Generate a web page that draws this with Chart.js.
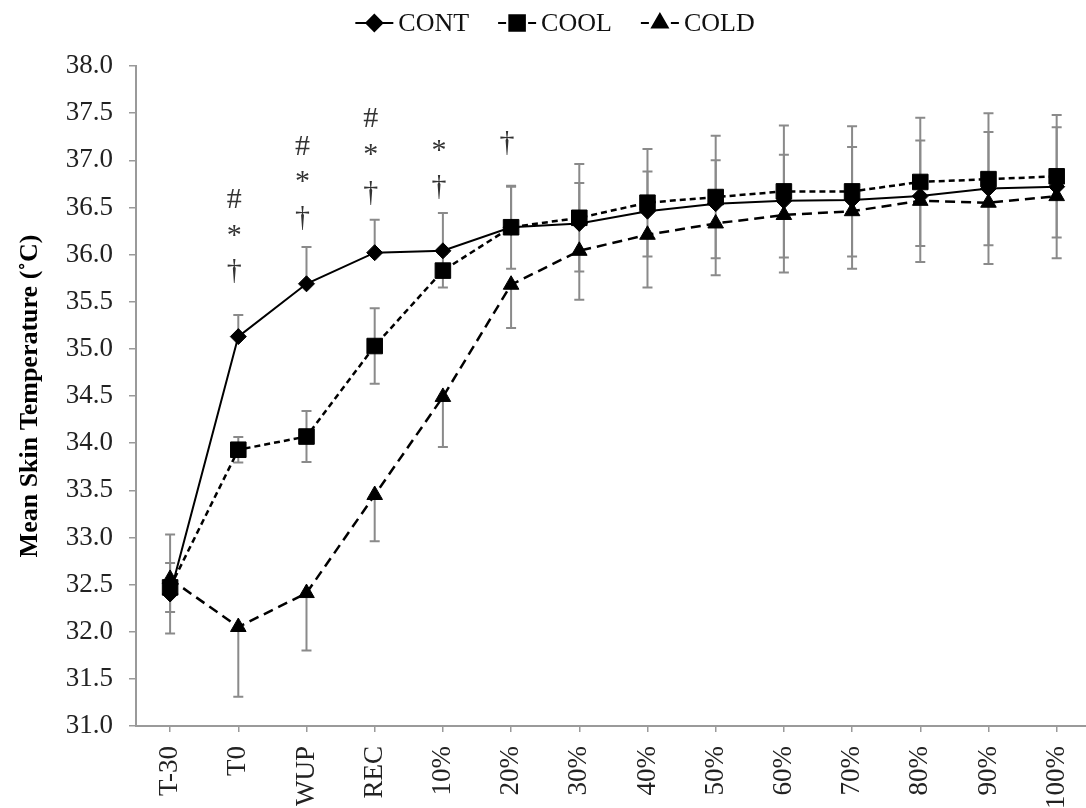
<!DOCTYPE html>
<html><head><meta charset="utf-8">
<script src="https://cdn.jsdelivr.net/npm/chart.js@4.4.0/dist/chart.umd.min.js"></script>
<style>html,body{margin:0;padding:0;background:#fff;overflow:hidden}#wrap{width:1086px;height:808px}</style>
</head><body><div id="wrap"><canvas id="c" width="1086" height="808"></canvas></div>
<script>
const categories = ['T-30','T0','WUP','REC','10%','20%','30%','40%','50%','60%','70%','80%','90%','100%'];
const contMean = [32.40, 35.13, 35.69, 36.02, 36.04, 36.29, 36.33, 36.46, 36.54, 36.57, 36.58, 36.62, 36.70, 36.72];
const coolMean = [32.47, 33.93, 34.07, 35.03, 35.83, 36.29, 36.39, 36.55, 36.61, 36.67, 36.67, 36.77, 36.80, 36.83];
const coldMean = [32.56, 32.05, 32.41, 33.45, 34.49, 35.68, 36.04, 36.21, 36.33, 36.42, 36.46, 36.57, 36.55, 36.62];
const contSD = [0.63, 0.23, 0.39, 0.35, 0.40, 0.43, 0.43, 0.42, 0.46, 0.49, 0.56, 0.59, 0.60, 0.63];
const coolSD = [0.26, 0.135, 0.27, 0.40, 0.18, 0.44, 0.57, 0.57, 0.65, 0.70, 0.69, 0.68, 0.70, 0.65];
const coldSD = [0.58, 0.74, 0.61, 0.49, 0.53, 0.46, 0.52, 0.56, 0.55, 0.61, 0.61, 0.65, 0.65, 0.66];
const sigSymbols = [[], ['#','*','†'], ['#','*','†'], ['#','*','†'], ['*','†'], ['†'], [], [], [], [], [], [], [], []];
const sigLevels  = [[], [36.60, 36.26, 35.83], [37.16, 36.83, 36.39], [37.45, 37.11, 36.65], [37.16, 36.72], [37.18], [], [], [], [], [], [], [], []];
const yTicks = [31.0,31.5,32.0,32.5,33.0,33.5,34.0,34.5,35.0,35.5,36.0,36.5,37.0,37.5,38.0];

const FONT = "'Liberation Serif', 'Times New Roman', serif";
const toPts = arr => arr.map((v, i) => ({x: i, y: v}));

const errorBars = {
  id: 'errorBars',
  beforeDatasetsDraw(chart) {
    const {ctx, scales: {x, y}} = chart;
    ctx.save();
    ctx.strokeStyle = '#8a8a8a';
    ctx.lineWidth = 2;
    chart.data.datasets.forEach(ds => {
      ds.data.forEach((p, i) => {
        const sd = ds.sd[i];
        const px = x.getPixelForValue(p.x);
        const up = ds.errDir !== 'down', down = ds.errDir !== 'up';
        const top = y.getPixelForValue(up ? p.y + sd : p.y);
        const bot = y.getPixelForValue(down ? p.y - sd : p.y);
        ctx.beginPath();
        ctx.moveTo(px, top); ctx.lineTo(px, bot);
        if (up) { ctx.moveTo(px - 5, top); ctx.lineTo(px + 5, top); }
        if (down) { ctx.moveTo(px - 5, bot); ctx.lineTo(px + 5, bot); }
        ctx.stroke();
      });
    });
    ctx.restore();
  }
};

const sigMarks = {
  id: 'sigMarks',
  afterDatasetsDraw(chart) {
    const {ctx, scales: {x, y}} = chart;
    ctx.save();
    ctx.font = '30px ' + FONT;
    ctx.fillStyle = '#333';
    ctx.textAlign = 'center';
    ctx.textBaseline = 'alphabetic';
    sigSymbols.forEach((syms, i) => {
      syms.forEach((s, k) => {
        const m = ctx.measureText(s);
        const cy = y.getPixelForValue(sigLevels[i][k]);
        const base = cy + (m.actualBoundingBoxAscent - m.actualBoundingBoxDescent) / 2;
        ctx.fillText(s, x.getPixelForValue(i) - 4, base);
      });
    });
    ctx.restore();
  }
};

const customLegend = {
  id: 'customLegend',
  afterDraw(chart) {
    const {ctx} = chart;
    ctx.save();
    ctx.font = '26px ' + FONT;
    ctx.textBaseline = 'middle';
    ctx.textAlign = 'left';
    const items = [0, 1, 2].map(i => chart.data.datasets[i]);
    const lineW = 38, gapText = 5, gapItem = 29;
    let total = 0;
    items.forEach((ds, k) => { total += lineW + gapText + ctx.measureText(ds.label).width + (k < 2 ? gapItem : 0); });
    let xx = 555 - total / 2;
    const cy = 23;
    items.forEach(ds => {
      ctx.strokeStyle = '#000';
      ctx.lineWidth = 2;
      ctx.beginPath();
      if (ds.borderDash && ds.borderDash.length) {
        ctx.moveTo(xx, cy); ctx.lineTo(xx + 8, cy);
        ctx.moveTo(xx + lineW - 8, cy); ctx.lineTo(xx + lineW, cy);
      } else {
        ctx.moveTo(xx, cy); ctx.lineTo(xx + lineW, cy);
      }
      ctx.stroke();
      ctx.fillStyle = '#000';
      ctx.strokeStyle = '#000';
      Chart.helpers.drawPoint(ctx, {pointStyle: ds.pointStyle, radius: ds.pointRadius, rotation: 0, borderWidth: 1}, xx + lineW / 2, cy);
      ctx.fillStyle = '#111';
      ctx.fillText(ds.label, xx + lineW + gapText, cy + 1);
      xx += lineW + gapText + ctx.measureText(ds.label).width + gapItem;
    });
    ctx.restore();
  }
};

new Chart(document.getElementById('c'), {
  type: 'line',
  data: {
    datasets: [
      {label: 'CONT', data: toPts(contMean), sd: contSD, errDir: 'up', order: 1,
       borderColor: '#000', backgroundColor: '#000', borderWidth: 2,
       pointStyle: 'rectRot', pointRadius: 8, pointBorderWidth: 1, pointBorderColor: '#000', pointBackgroundColor: '#000'},
      {label: 'COOL', data: toPts(coolMean), sd: coolSD, errDir: 'both', order: 0,
       borderColor: '#000', backgroundColor: '#000', borderWidth: 2.5, borderDash: [6, 4],
       pointStyle: 'rect', pointRadius: 11, pointBorderWidth: 1, pointBorderColor: '#000', pointBackgroundColor: '#000'},
      {label: 'COLD', data: toPts(coldMean), sd: coldSD, errDir: 'down', order: 2,
       borderColor: '#000', backgroundColor: '#000', borderWidth: 2.5, borderDash: [10, 6],
       pointStyle: 'triangle', pointRadius: 9, pointBorderWidth: 1, pointBorderColor: '#000', pointBackgroundColor: '#000'}
    ]
  },
  options: {
    responsive: false,
    animation: false,
    events: [],
    layout: {autoPadding: false, padding: {top: 66, right: 0, left: 0, bottom: 0}},
    plugins: {legend: {display: false}, tooltip: {enabled: false}},
    scales: {
      x: {
        type: 'linear', min: -0.5, max: 13.43,
        afterBuildTicks: s => { s.ticks = categories.map((c, i) => ({value: i})); },
        afterFit: s => { s.height = 82; s.paddingLeft = 0; s.paddingRight = 0; },
        grid: {drawOnChartArea: false, drawTicks: true, tickLength: 6, color: '#9a9a9a', lineWidth: 1.5},
        border: {display: true, color: '#9a9a9a', width: 2},
        ticks: {autoSkip: false, minRotation: 90, maxRotation: 90, padding: 14, color: '#222',
                font: {family: FONT, size: 27}, callback: v => categories[v]}
      },
      y: {
        min: 31, max: 38,
        afterBuildTicks: s => { s.ticks = yTicks.map(v => ({value: v})); },
        afterFit: s => { s.width = 136; },
        grid: {drawOnChartArea: false, drawTicks: true, tickLength: 7, color: '#9a9a9a', lineWidth: 1.5},
        border: {display: true, color: '#9a9a9a', width: 2},
        ticks: {padding: 16, color: '#222', font: {family: FONT, size: 27}, callback: v => Number(v).toFixed(1)},
        title: {display: true, text: 'Mean Skin Temperature (˚C)', color: '#000',
                font: {family: FONT, size: 26, weight: 'bold'}, padding: {top: 15, bottom: 0}}
      }
    }
  },
  plugins: [errorBars, sigMarks, customLegend]
});
</script>
</body></html>
